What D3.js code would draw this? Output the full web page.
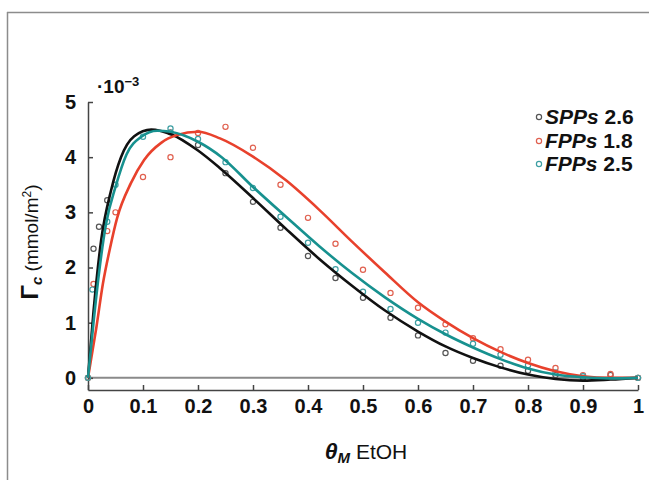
<!DOCTYPE html>
<html><head><meta charset="utf-8">
<script src="https://cdn.jsdelivr.net/npm/d3@7/dist/d3.min.js"></script>
<style>body{margin:0;background:#fff}svg{display:block}text{font-family:"Liberation Sans",Arial,sans-serif}</style>
</head><body><svg id="c" width="649" height="480"></svg>
<script>
// ---- data ----
const seriesNames = ["SPPs", "FPPs", "FPPs"];
const seriesValues = ["2.6", "1.8", "2.5"];
const seriesColors = ["#111111", "#e8412c", "#17918f"];
const pointColors = ["#555555", "#e0604f", "#3e9fa3"];

const xTicks = [0,0.1,0.2,0.3,0.4,0.5,0.6,0.7,0.8,0.9,1];
const xTickLabels = ["0","0.1","0.2","0.3","0.4","0.5","0.6","0.7","0.8","0.9","1"];
const yTicks = [0,1,2,3,4,5];

// measured points (x, Γ ×10^-3)
const spp26X = [0,0.01,0.02,0.035,0.15,0.2,0.25,0.3,0.35,0.4,0.45,0.5,0.55,0.6,0.65,0.7,0.75,0.8,0.85,0.9,0.95,1];
const spp26Y = [0,2.34,2.74,3.22,4.45,4.22,3.71,3.19,2.72,2.21,1.81,1.45,1.09,0.77,0.45,0.31,0.22,0.13,0.05,0.0,0.05,0];
const fpp18X = [0,0.01,0.035,0.05,0.1,0.15,0.2,0.25,0.3,0.35,0.4,0.45,0.5,0.55,0.6,0.65,0.7,0.75,0.8,0.85,0.9,0.95,1];
const fpp18Y = [0,1.7,2.66,3.0,3.64,4.0,4.44,4.55,4.17,3.5,2.9,2.43,1.96,1.54,1.27,0.97,0.72,0.52,0.33,0.18,0.05,0.07,0];
const fpp25X = [0,0.008,0.035,0.05,0.1,0.15,0.2,0.25,0.3,0.35,0.4,0.45,0.5,0.55,0.6,0.65,0.7,0.75,0.8,0.85,0.9,1];
const fpp25Y = [0,1.6,2.83,3.5,4.37,4.52,4.33,3.91,3.44,2.92,2.45,1.97,1.56,1.25,1.0,0.82,0.62,0.42,0.23,0.1,0.03,0];

// fitted curves
const spp26FitX = [0,0.01,0.024,0.042,0.06,0.084,0.115,0.15,0.2,0.24,0.3,0.36,0.42,0.48,0.54,0.6,0.65,0.7,0.75,0.8,0.85,0.9,0.95,1];
const spp26FitY = [0,1.2,2.5,3.4,4.0,4.38,4.5,4.42,4.12,3.8,3.26,2.7,2.16,1.67,1.22,0.84,0.57,0.36,0.19,0.06,-0.02,-0.05,-0.03,0];
const fpp18FitX = [0,0.005,0.015,0.027,0.04,0.053,0.078,0.102,0.133,0.162,0.2,0.24,0.3,0.36,0.42,0.48,0.54,0.6,0.65,0.7,0.75,0.8,0.85,0.9,0.95,1];
const fpp18FitY = [0,0.3,0.9,1.7,2.35,2.9,3.53,3.95,4.26,4.4,4.46,4.34,4.01,3.58,3.05,2.47,1.91,1.37,1.02,0.72,0.47,0.27,0.12,0.03,0.0,0];
const fpp25FitX = [0,0.01,0.02,0.033,0.05,0.07,0.097,0.126,0.15,0.2,0.243,0.3,0.36,0.42,0.48,0.54,0.6,0.65,0.7,0.75,0.8,0.85,0.9,0.95,1];
const fpp25FitY = [0,1.0,1.9,2.8,3.46,4.05,4.37,4.48,4.46,4.28,4.0,3.46,2.92,2.39,1.9,1.46,1.07,0.79,0.55,0.34,0.17,0.06,0.01,-0.01,0];

// ---- drawing ----
const svg = d3.select("#c");
const x = d3.scaleLinear().domain([0,1]).range([88,638]);
const y = d3.scaleLinear().domain([-0.22,5]).range([390,102]);

// frame
svg.append("line").attr("x1",7).attr("x2",649).attr("y1",12.5).attr("y2",12.5).attr("stroke","#8c8c8c").attr("stroke-width",1.5);
svg.append("line").attr("x1",7.5).attr("x2",7.5).attr("y1",12).attr("y2",480).attr("stroke","#8c8c8c").attr("stroke-width",1.5);

// zero line
svg.append("line").attr("x1",x(0)).attr("x2",x(1)).attr("y1",y(0)).attr("y2",y(0)).attr("stroke","#8a8a8a").attr("stroke-width",2);

// axes
const xAxis = d3.axisBottom(x).tickValues(xTicks).tickFormat((d,i)=>xTickLabels[i]).tickSizeInner(-5).tickSizeOuter(0).tickPadding(9);
const gx = svg.append("g").attr("transform","translate(0,390)").call(xAxis);
gx.selectAll("text").attr("font-size",20).attr("font-weight","bold").attr("fill","#111");
gx.selectAll("line,path").attr("stroke","#444").attr("stroke-width",1.5);

const yAxis = d3.axisLeft(y).tickValues(yTicks).tickFormat(d3.format("d")).tickSizeInner(-5).tickSizeOuter(0).tickPadding(12);
const gy = svg.append("g").attr("transform","translate(88,0)").call(yAxis);
gy.selectAll("text").attr("font-size",20).attr("font-weight","bold").attr("fill","#111");
gy.selectAll("line,path").attr("stroke","#444").attr("stroke-width",1.5);

// curves
const line = d3.line().x(d=>x(d[0])).y(d=>y(d[1])).curve(d3.curveMonotoneX);
const fits = [[spp26FitX,spp26FitY],[fpp18FitX,fpp18FitY],[fpp25FitX,fpp25FitY]];
const pts = [[spp26X,spp26Y],[fpp18X,fpp18Y],[fpp25X,fpp25Y]];
pts.forEach((p,i)=>{
  svg.append("g").selectAll("circle").data(d3.zip(p[0],p[1])).join("circle")
    .attr("cx",d=>x(d[0])).attr("cy",d=>y(d[1])).attr("r",2.6)
    .attr("fill","none").attr("stroke",pointColors[i]).attr("stroke-width",1.2);
});
[0,1,2].forEach(i=>{
  svg.append("path").datum(d3.zip(fits[i][0],fits[i][1])).attr("d",line)
    .attr("fill","none").attr("stroke",seriesColors[i]).attr("stroke-width",2.6);
});

// exponent label
const ex = svg.append("text").attr("x",97).attr("y",93).attr("font-size",19).attr("font-weight","bold").attr("fill","#111");
ex.append("tspan").text("·10");
ex.append("tspan").attr("font-size",13).attr("dy",-7).text("−3");

// y label
const yl = svg.append("text").attr("transform","translate(38,242) rotate(-90)").attr("text-anchor","middle").attr("fill","#111");
yl.append("tspan").attr("font-size",24).attr("font-weight","bold").text("Γ");
yl.append("tspan").attr("font-size",15).attr("font-weight","bold").attr("font-style","italic").attr("dy",4).text("c");
yl.append("tspan").attr("font-size",19).attr("dy",-4).text(" (mmol/m");
yl.append("tspan").attr("font-size",12).attr("dy",-7).text("2");
yl.append("tspan").attr("font-size",19).attr("dy",7).text(")");

// x label
const xl = svg.append("text").attr("x",366).attr("y",459).attr("text-anchor","middle").attr("fill","#111");
xl.append("tspan").attr("font-size",23).attr("font-weight","bold").attr("font-style","italic").text("θ");
xl.append("tspan").attr("font-size",15).attr("font-weight","bold").attr("font-style","italic").attr("dy",4).text("M");
xl.append("tspan").attr("font-size",21).attr("dy",-4).text(" EtOH");

// legend
const legY = [117,141,164];
[0,1,2].forEach(i=>{
  svg.append("circle").attr("cx",539).attr("cy",legY[i]).attr("r",2.6).attr("fill","none").attr("stroke",pointColors[i]).attr("stroke-width",1.2);
  const t = svg.append("text").attr("x",545).attr("y",legY[i]+7).attr("font-size",21).attr("font-weight","bold").attr("fill","#111");
  t.append("tspan").attr("font-style","italic").text(seriesNames[i]);
  t.append("tspan").text(" " + seriesValues[i]);
});
</script></body></html>
